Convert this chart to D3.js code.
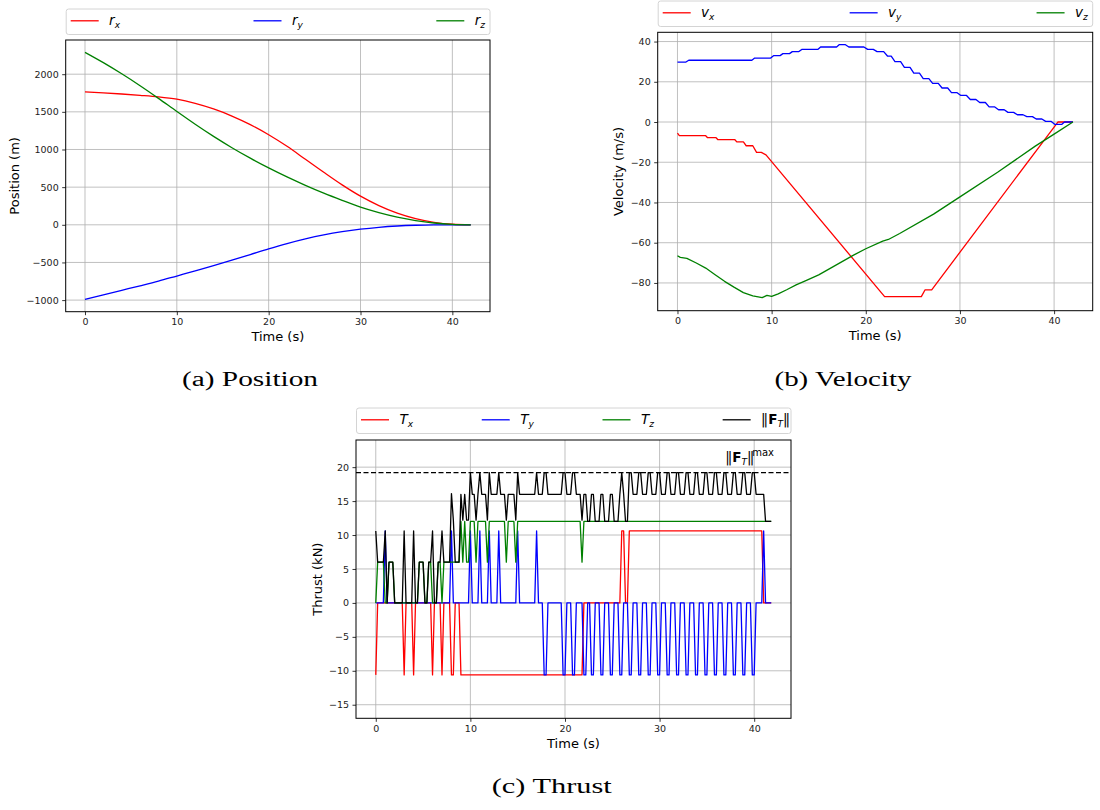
<!DOCTYPE html>
<html>
<head>
<meta charset="utf-8">
<script src="https://cdn.jsdelivr.net/npm/d3@7"></script>
<style>
  body { margin: 0; background: #fff; }
  svg { display: block; font-family: "DejaVu Sans", sans-serif; }
  .gray-aa { opacity: 0.995; }
</style>
</head>
<body>
<svg width="1100" height="810"></svg>
<script>
// ---- data ----
var timeTicks = [0, 10, 20, 30, 40];
var posTicks = [-1000, -500, 0, 500, 1000, 1500, 2000];
var velTicks = [-80, -60, -40, -20, 0, 20, 40];
var thrTicks = [-15, -10, -5, 0, 5, 10, 15, 20];

// position (m), sampled every 2 s
var posTime = [0, 2, 4, 6, 8, 10, 12, 14, 16, 18, 20, 22, 24, 26, 28, 30, 32, 34, 36, 38, 40, 42];
var posRx = [1765, 1752, 1737, 1720, 1700, 1668, 1612, 1538, 1444, 1330, 1196, 1042, 870, 697, 530, 380, 255, 155, 82, 33, 7, 0];
var posRy = [-990, -930, -870, -810, -748, -680, -612, -543, -470, -395, -320, -250, -188, -135, -92, -58, -33, -16, -6, -1, 0, 0];
var posRz = [2290, 2153, 2005, 1847, 1679, 1505, 1335, 1174, 1024, 885, 756, 636, 524, 420, 325, 235, 162, 102, 56, 24, 6, 0];

// velocity (m/s), [t, v] vertices
var velVx = [[0,-5.5],[0.2,-6.8],[3.0,-6.8],[3.2,-7.8],[4.1,-7.8],[4.3,-8.8],[6.1,-8.8],[6.3,-9.9],[7.0,-9.9],[7.3,-11.8],
  [8.0,-11.8],[8.4,-15.1],[8.9,-15.1],[9.4,-16.3],[22.0,-86.8],[25.9,-86.8],[26.3,-83.4],[27.0,-83.4],[40.4,0],[42.0,0]];
var velVy = [[0,29.8],[0.9,29.8],[1.2,30.7],[7.9,30.7],[8.2,31.8],[9.9,31.8],[10.2,33.0],[10.9,33.0],[11.2,34.0],[11.9,34.0],
  [12.2,35.0],[12.9,35.0],[13.2,36.1],[14.9,36.1],[15.2,37.3],[16.9,37.3],[17.2,38.5],[17.8,38.5],[18.2,37.3],[19.8,37.3],
  [20.2,36.1],[20.8,36.1],[21.2,35.0],[21.9,35.0],[22.3,32.8],[22.7,32.8],[23.1,30.0],[23.7,30.0],[24.1,27.2],[24.7,27.2],
  [25.1,24.3],[25.7,24.3],[26.1,21.6],[26.7,21.6],[27.1,19.2],[27.7,19.2],[28.1,16.9],[28.7,16.9],[29.1,14.6],[29.7,14.6],
  [30.1,13.2],[30.7,13.2],[31.1,11.2],[31.7,11.2],[32.1,9.7],[32.7,9.7],[33.1,7.5],[33.7,7.5],[34.1,6.1],[34.7,6.1],
  [35.1,4.8],[35.7,4.8],[36.1,3.6],[36.7,3.6],[37.1,2.7],[37.7,2.7],[38.1,1.5],[38.7,1.5],[39.1,0.3],[39.7,0.3],
  [40.1,-1.2],[40.8,-1.2],[41.1,0],[42.0,0]];
var velVz = [[0,-66.5],[0.3,-67.3],[1,-67.8],[2,-70.1],[3,-72.6],[4,-75.9],[5,-79.2],[6,-82.1],[7,-84.8],[8,-86.4],[9,-87.3],
  [9.5,-86.2],[10,-86.7],[10.7,-85.4],[11.6,-83.4],[12.6,-81],[13.7,-78.7],[15,-76],[16.5,-72],[18.7,-66.2],[20,-63],
  [21.8,-59.2],[22.4,-58.4],[23.6,-55.4],[27.2,-45.8],[30,-37.2],[34,-25],[38,-12],[40,-6],[42,0]];

// thrust (kN), [t, T] vertices
var thrTx = [[0,-10.6],[0.2,0],[2.8,0],[3.0,-10.6],[3.2,0],[3.8,0],[4.0,-10.6],[4.2,0],[5.8,0],[6.0,-10.6],[6.2,0],[6.8,0],
  [7.0,-10.6],[7.2,0],[7.8,0],[8.0,-10.6],[8.2,-10.6],[8.4,0],[8.8,0],[9.0,-10.6],[21.8,-10.6],[22.0,0],[25.8,0],
  [26.0,10.6],[26.2,10.6],[26.4,0],[26.6,0],[26.8,10.6],[40.8,10.6],[41.0,0],[41.8,0]];
var thrTy = [[0,0],[0.8,0],[1.0,10.6],[1.2,0],[7.8,0],[8.0,10.6],[8.2,0],[9.8,0],[10.0,10.6],[10.2,0],[10.8,0],[11.0,10.6],
  [11.2,0],[11.8,0],[12.0,10.6],[12.2,0],[12.8,0],[13.0,10.6],[13.2,0],[14.8,0],[15.0,10.6],[15.2,0],[16.8,0],[17.0,10.6],[17.2,0],
  [17.6,0],[17.8,-10.6],[18.0,-10.6],[18.2,0],[19.6,0],[19.8,-10.6],[20.0,-10.6],[20.2,0],[20.6,0],[20.8,-10.6],[21.0,-10.6],[21.2,0],
  [21.8,0],[22.0,-10.6],[22.2,-10.6],[22.4,0],[22.6,0],[22.8,-10.6],[23.0,-10.6],[23.2,0],[23.6,0],[23.8,-10.6],[24.0,-10.6],[24.2,0],
  [24.6,0],[24.8,-10.6],[25.0,-10.6],[25.2,0],[25.6,0],[25.8,-10.6],[26.0,-10.6],[26.2,0],[26.6,0],[26.8,-10.6],[27.0,-10.6],[27.2,0],
  [27.6,0],[27.8,-10.6],[28.0,-10.6],[28.2,0],[28.6,0],[28.8,-10.6],[29.0,-10.6],[29.2,0],[29.6,0],[29.8,-10.6],[30.0,-10.6],[30.2,0],
  [30.6,0],[30.8,-10.6],[31.0,-10.6],[31.2,0],[31.6,0],[31.8,-10.6],[32.0,-10.6],[32.2,0],[32.6,0],[32.8,-10.6],[33.0,-10.6],[33.2,0],
  [33.6,0],[33.8,-10.6],[34.0,-10.6],[34.2,0],[34.6,0],[34.8,-10.6],[35.0,-10.6],[35.2,0],[35.6,0],[35.8,-10.6],[36.0,-10.6],[36.2,0],
  [36.6,0],[36.8,-10.6],[37.0,-10.6],[37.2,0],[37.6,0],[37.8,-10.6],[38.0,-10.6],[38.2,0],[38.6,0],[38.8,-10.6],[39.0,-10.6],[39.2,0],
  [39.6,0],[39.8,-10.6],[40.0,-10.6],[40.2,0],[40.8,0],[41.0,10.6],[41.2,0],[41.8,0]];
var thrTz = [[0,0],[0.2,6],[0.8,6],[1.0,0],[1.2,0],[1.4,6],[1.8,6],[2.0,0],[4.4,0],[4.6,6],[5.0,6],[5.2,0],[5.4,0],[5.6,6],
  [5.8,6],[6.0,0],[6.4,0],[6.6,6],[6.8,6],[7.0,0],[7.2,6],[8.8,6],[9.0,12],[9.2,6],[9.4,12],[9.6,6],[9.8,6],[10.0,12],
  [10.4,12],[10.6,6],[10.8,12],[11.6,12],[11.8,6],[12.0,12],[13.6,12],[13.8,6],[14.0,12],[14.6,12],[14.8,6],[15.0,12],
  [21.6,12],[21.8,6],[22.0,12],[41.8,12]];
var thrNorm = [[0,10.6],[0.2,6],[0.8,6],[1.0,10.6],[1.2,0],[1.4,6],[1.8,6],[2.0,0],[2.8,0],[3.0,10.6],[3.2,0],[3.8,0],
  [4.0,10.6],[4.2,0],[4.4,0],[4.6,6],[5.0,6],[5.2,0],[5.4,0],[5.6,6],[5.8,6],[6.0,10.6],[6.2,0],[6.4,0],[6.6,6],[6.8,6],
  [7.0,10.6],[7.2,6],[7.8,6],[8.0,16.1],[8.2,12.2],[8.4,6],[8.8,6],[9.0,16],[9.2,12.2],[9.4,16],[9.6,12.2],[9.8,12.2],
  [10.0,19.2],[10.2,16],[10.4,16],[10.6,12.2],[10.8,16],[11.0,19.2],[11.2,16],[11.6,16],[11.8,12.2],[12.0,19.2],[12.2,16],
  [12.8,16],[13.0,19.2],[13.2,16],[13.6,16],[13.8,12.2],[14.0,16],[14.6,16],[14.8,12.2],[15.0,19.2],[15.2,16],[16.8,16],
  [17.0,19.2],[17.2,16],[17.6,16],[17.8,19.2],[18.0,19.2],[18.2,16],[19.6,16],[19.8,19.2],[20.0,19.2],[20.2,16],[20.6,16],
  [20.8,19.2],[21.0,19.2],[21.2,16],[21.6,16],[21.8,12.2],[22.0,16],[22.2,16],[22.4,12],[22.6,12],[22.8,16],[23.0,16],
  [23.2,12],[23.6,12],[23.8,16],[24.0,16],[24.2,12],[24.6,12],[24.8,16],[25.0,16],[25.2,12],[25.6,12],[25.8,16],[26.0,19.2],
  [26.2,16],[26.4,12],[26.6,12],[26.8,19.2],[27.0,19.2],[27.2,16],[27.6,16],[27.8,19.2],[28.0,19.2],[28.2,16],[28.6,16],
  [28.8,19.2],[29.0,19.2],[29.2,16],[29.6,16],[29.8,19.2],[30.0,19.2],[30.2,16],[30.6,16],[30.8,19.2],[31.0,19.2],[31.2,16],
  [31.6,16],[31.8,19.2],[32.0,19.2],[32.2,16],[32.6,16],[32.8,19.2],[33.0,19.2],[33.2,16],[33.6,16],[33.8,19.2],[34.0,19.2],
  [34.2,16],[34.6,16],[34.8,19.2],[35.0,19.2],[35.2,16],[35.6,16],[35.8,19.2],[36.0,19.2],[36.2,16],[36.6,16],[36.8,19.2],
  [37.0,19.2],[37.2,16],[37.6,16],[37.8,19.2],[38.0,19.2],[38.2,16],[38.6,16],[38.8,19.2],[39.0,19.2],[39.2,16],[39.6,16],
  [39.8,19.2],[40.0,19.2],[40.2,16],[41.0,16],[41.2,12],[41.8,12]];
var thrMax = 19.2;

// ---- drawing ----
var svg = d3.select('svg');
var fmt = function(d) { return d < 0 ? '\u2212' + Math.abs(d) : String(d); };

// italic symbol with italic subscript, mathtext-like
function subLabel(base, sub) {
    return function(t) {
        t.append('tspan').attr('font-style', 'italic').text(base);
        t.append('tspan').attr('font-style', 'italic').attr('font-size', 9).attr('dy', 3).text(sub);
    };
}
// ||F_T|| built from pipes (U+2016 is not in DejaVu Sans)
function normLabel(t) {
    t.classed('gray-aa', true);
    t.append('tspan').attr('letter-spacing', -2).text('||');
    t.append('tspan').attr('dx', 2).attr('font-weight', 'bold').text('F');
    t.append('tspan').attr('font-style', 'italic').attr('font-size', 9).attr('dy', 3).text('T');
    t.append('tspan').attr('dy', -3).attr('letter-spacing', -2).text('||');
}

function panel(p) {
    var x = d3.scaleLinear().domain(p.xDomain).range([p.left, p.right]);
    var y = d3.scaleLinear().domain(p.yDomain).range([p.bottom, p.top]);
    var g = svg.append('g');

    g.append('g').selectAll('line').data(p.xTicks).enter().append('line')
        .attr('x1', function(d) { return x(d); }).attr('x2', function(d) { return x(d); })
        .attr('y1', p.top).attr('y2', p.bottom)
        .attr('stroke', '#b0b0b0').attr('stroke-width', 0.8);
    g.append('g').selectAll('line').data(p.yTicks).enter().append('line')
        .attr('y1', function(d) { return y(d); }).attr('y2', function(d) { return y(d); })
        .attr('x1', p.left).attr('x2', p.right)
        .attr('stroke', '#b0b0b0').attr('stroke-width', 0.8);

    var line = d3.line()
        .x(function(d) { return x(d[0]); })
        .y(function(d) { return y(d[1]); });
    if (p.curve) line.curve(p.curve);

    p.series.forEach(function(s) {
        g.append('path').datum(s.values)
            .attr('d', line)
            .attr('fill', 'none')
            .attr('stroke', s.color)
            .attr('stroke-width', 1.3)
            .attr('stroke-linejoin', 'round');
    });

    if (p.hline != null) {
        g.append('line')
            .attr('x1', p.left).attr('x2', p.right)
            .attr('y1', y(p.hline)).attr('y2', y(p.hline))
            .attr('stroke', '#000').attr('stroke-width', 1.3)
            .attr('stroke-dasharray', '5,2.5');
    }

    var ax = g.append('g').attr('transform', 'translate(0,' + p.bottom + ')')
        .call(d3.axisBottom(x).tickValues(p.xTicks).tickFormat(fmt)
            .tickSizeInner(3.5).tickSizeOuter(0).tickPadding(3.5));
    var ay = g.append('g').attr('transform', 'translate(' + p.left + ',0)')
        .call(d3.axisLeft(y).tickValues(p.yTicks).tickFormat(fmt)
            .tickSizeInner(3.5).tickSizeOuter(0).tickPadding(3.5));
    [ax, ay].forEach(function(a) {
        a.select('.domain').remove();
        a.attr('font-size', 9.5).attr('font-family', '"DejaVu Sans", sans-serif');
        a.selectAll('line').attr('stroke', '#000').attr('stroke-width', 0.8);
        a.selectAll('text').attr('fill', '#222');
    });

    g.append('rect')
        .attr('x', p.left).attr('y', p.top)
        .attr('width', p.right - p.left).attr('height', p.bottom - p.top)
        .attr('fill', 'none').attr('stroke', '#000').attr('stroke-width', 1);

    g.append('text')
        .attr('x', (p.left + p.right) / 2).attr('y', p.xLabelY)
        .attr('text-anchor', 'middle').attr('font-size', 13)
        .text('Time (s)');
    g.append('text')
        .attr('transform', 'translate(' + p.yLabelX + ',' + (p.top + p.bottom) / 2 + ') rotate(-90)')
        .attr('text-anchor', 'middle').attr('font-size', 13)
        .text(p.yLabel);

    // legend strip above the axes (matplotlib mode="expand")
    var lg = svg.append('g');
    lg.append('rect')
        .attr('x', p.left + 0.5).attr('y', p.legTop)
        .attr('width', p.right - p.left - 0.5).attr('height', 25.5)
        .attr('rx', 2.5).attr('fill', '#fff')
        .attr('stroke', '#d4d4d4').attr('stroke-width', 1);
    var cy = p.legTop + 11.8;
    var items = p.series.map(function(s) {
        var it = lg.append('g');
        it.append('line').attr('x1', 0).attr('x2', 28).attr('y1', 0).attr('y2', 0)
            .attr('stroke', s.color).attr('stroke-width', 1.3);
        var t = it.append('text').attr('x', 38.4).attr('y', 4.3).attr('font-size', 13.5);
        s.label(t);
        return { g: it, w: 38.4 + t.node().getComputedTextLength() };
    });
    var pad = 5;
    var gap = (p.right - p.left - 2 * pad - d3.sum(items, function(d) { return d.w; })) / (items.length - 1);
    var cx = p.left + pad;
    items.forEach(function(d) {
        d.g.attr('transform', 'translate(' + cx + ',' + cy + ')');
        cx += d.w + gap;
    });

    svg.append('text')
        .attr('x', p.capX).attr('y', p.capY)
        .attr('text-anchor', 'middle')
        .attr('font-family', '"Liberation Serif", serif')
        .attr('font-size', 20.5)
        .attr('textLength', p.capW).attr('lengthAdjust', 'spacingAndGlyphs')
        .text(p.caption);

    return { x: x, y: y };
}

panel({
    left: 65.7, right: 490, top: 40, bottom: 311.7, legTop: 9,
    xDomain: [-2.1, 44.1], yDomain: [-1154, 2454],
    xTicks: timeTicks, yTicks: posTicks,
    curve: d3.curveMonotoneX,
    series: [
        { values: d3.zip(posTime, posRx), color: 'red', label: subLabel('r', 'x') },
        { values: d3.zip(posTime, posRy), color: 'blue', label: subLabel('r', 'y') },
        { values: d3.zip(posTime, posRz), color: 'green', label: subLabel('r', 'z') }
    ],
    xLabelY: 341, yLabelX: 19, yLabel: 'Position (m)',
    caption: '(a) Position', capX: 250, capY: 386, capW: 136
});

panel({
    left: 657.7, right: 1092.7, top: 32.3, bottom: 310.7, legTop: 1,
    xDomain: [-2.1, 44.1], yDomain: [-93.8, 44.6],
    xTicks: timeTicks, yTicks: velTicks,
    series: [
        { values: velVx, color: 'red', label: subLabel('v', 'x') },
        { values: velVy, color: 'blue', label: subLabel('v', 'y') },
        { values: velVz, color: 'green', label: subLabel('v', 'z') }
    ],
    xLabelY: 340, yLabelX: 623, yLabel: 'Velocity (m/s)',
    caption: '(b) Velocity', capX: 843, capY: 386, capW: 137
});

panel({
    left: 356, right: 791, top: 440, bottom: 718.3, legTop: 408,
    xDomain: [-2.09, 43.89], yDomain: [-17, 24],
    xTicks: timeTicks, yTicks: thrTicks,
    series: [
        { values: thrTx, color: 'red', label: subLabel('T', 'x') },
        { values: thrTy, color: 'blue', label: subLabel('T', 'y') },
        { values: thrTz, color: 'green', label: subLabel('T', 'z') },
        { values: thrNorm, color: 'black', label: normLabel }
    ],
    hline: thrMax,
    xLabelY: 747.5, yLabelX: 322, yLabel: 'Thrust (kN)',
    caption: '(c) Thrust', capX: 551.7, capY: 793, capW: 120
});

// annotation of the thrust limit
var ann = svg.append('text')
    .attr('x', 774).attr('y', 462)
    .attr('text-anchor', 'end').attr('font-size', 13.5);
normLabel(ann);
ann.append('tspan').attr('font-size', 10).attr('dy', -6).text('max');
</script>
</body>
</html>
